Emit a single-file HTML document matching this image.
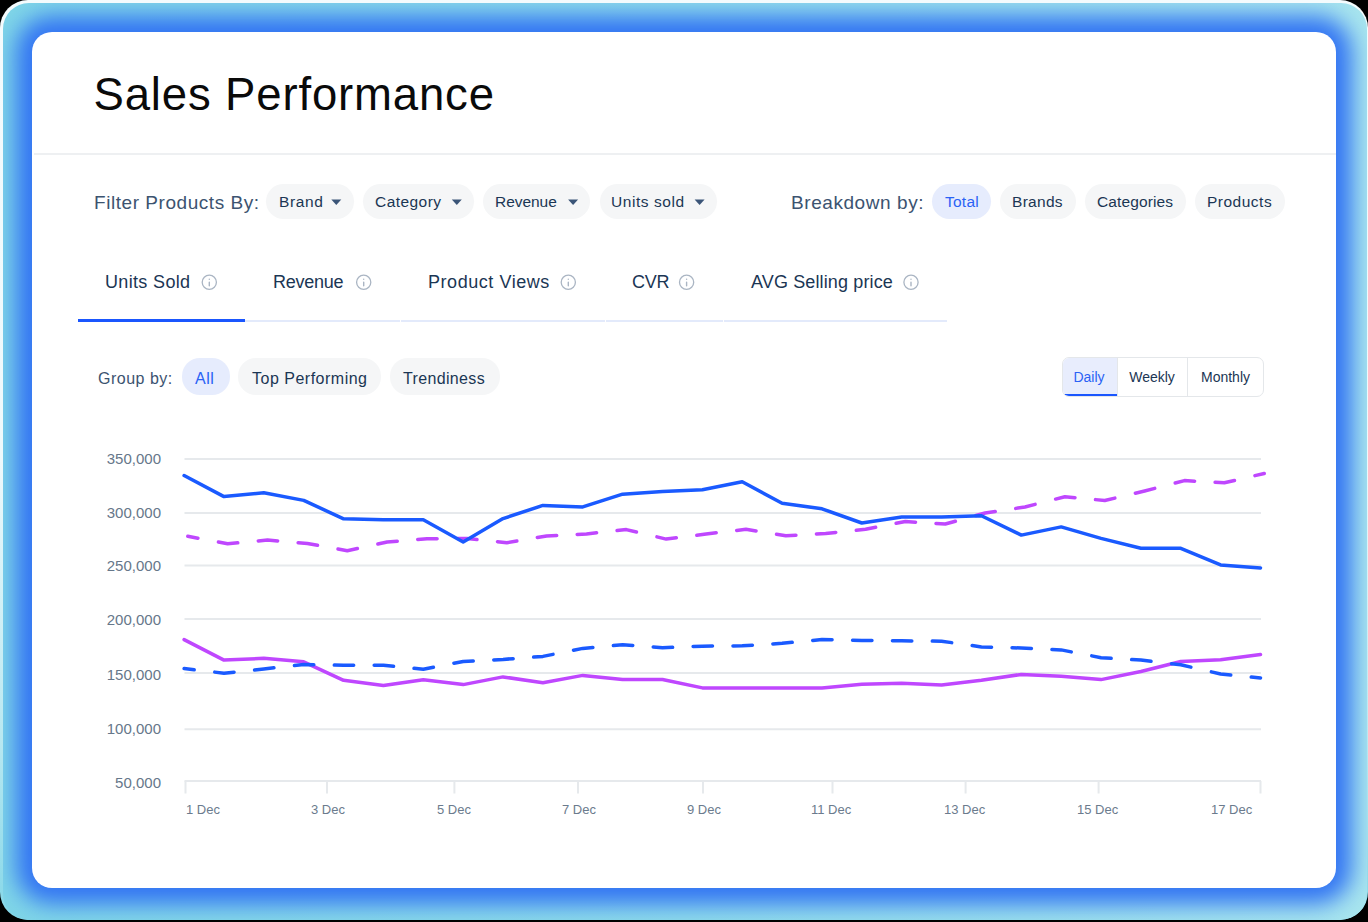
<!DOCTYPE html>
<html><head><meta charset="utf-8">
<style>
*{box-sizing:border-box;margin:0;padding:0}
html,body{width:1368px;height:922px;overflow:hidden;background:#000;font-family:"Liberation Sans",sans-serif}
.frame{position:absolute;left:0;top:0;width:1368px;height:920px;border-radius:28px;background:linear-gradient(180deg,#f4fbfd 0%,#eef9fc 50%,#b9e8f1 80%,#85d7e8 100%);overflow:hidden}
.frame-in{position:absolute;left:3px;top:3px;width:1364px;height:917px;border-radius:26px;background:linear-gradient(90deg,#7fd5e7,#8edbea 50%,#a8e5ee);overflow:hidden}
.glow{position:absolute;left:29px;top:29px;width:1304px;height:856px;border-radius:20px;background:#3375f3;box-shadow:0 0 22px 16px #3375f3}
.card{position:absolute;left:32px;top:32px;width:1304px;height:856px;border-radius:20px;background:#fff}
.abs{position:absolute;white-space:nowrap}
.title{left:93.5px;top:67px;font-size:45.5px;letter-spacing:0.85px;color:#0a0a0a;line-height:56px}
.hr{position:absolute;left:34px;top:153px;width:1302px;height:2px;background:#eef0f2}
.lbl{font-size:19px;letter-spacing:0.57px;color:#3c5370;line-height:22px}
.ptx{top:193px;font-size:15.5px;line-height:18px;color:#1b3654}
.gtx{top:369.5px;font-size:16px;line-height:18px;color:#1b3654;letter-spacing:0.5px}
.pill{position:absolute;height:35px;border-radius:18px;background:#f5f6f7;color:#1b3654;font-size:15px;line-height:35px;white-space:nowrap}
.pill.on{background:#e6ecfd;color:#2a62f5}
.tri{position:absolute;top:15px;width:0;height:0;border-left:5px solid transparent;border-right:5px solid transparent;border-top:5.5px solid #3b5578}
.tab{top:271px;font-size:18px;color:#1b3654;line-height:22px}
.tline{position:absolute;height:2px;background:#e3eafb}
.seg{position:absolute;left:1062px;top:357px;width:202px;height:40px;border:1px solid #e4e7ea;border-radius:7px;overflow:hidden}
.seg div{position:absolute;top:0;height:38px;line-height:39px;font-size:14px;color:#1b3654;text-align:center}
.ylab{position:absolute;right:1207px;font-family:"Liberation Sans",sans-serif;font-size:15px;color:#66778a;line-height:16px;text-align:right}
.xlab{position:absolute;font-size:13px;color:#6b7b8d;line-height:14px;white-space:nowrap;margin-top:1px}
</style></head><body>
<div class="frame"><div class="frame-in"><div class="glow"></div></div></div>
<div class="card"></div>
<div class="abs title">Sales Performance</div>
<div class="hr"></div>

<!-- filter row -->
<div class="abs lbl" style="left:94px;top:191.5px;letter-spacing:0.55px">Filter Products By:</div>
<div class="pill" style="left:266px;top:184px;width:88px"></div>
<div class="pill" style="left:363px;top:184px;width:111px"></div>
<div class="pill" style="left:483px;top:184px;width:107px"></div>
<div class="pill" style="left:600px;top:184px;width:117px"></div>
<div class="abs ptx" style="left:279px;letter-spacing:0.65px">Brand</div>
<div class="abs ptx" style="left:375px;letter-spacing:0.45px">Category</div>
<div class="abs ptx" style="left:495px;letter-spacing:-0.05px">Revenue</div>
<div class="abs ptx" style="left:611px;letter-spacing:0.55px">Units sold</div>
<svg class="abs" style="left:0;top:0" width="1368" height="922"><g fill="#3b5578">
<path d="M331.3 199.4H341.3L336.3 205Z"/><path d="M451.8 199.4H461.8L456.8 205Z"/><path d="M568.1 199.4H578.1L573.1 205Z"/><path d="M694.6 199.4H704.6L699.6 205Z"/>
</g></svg>

<div class="abs lbl" style="left:791px;top:191.5px">Breakdown by:</div>
<div class="pill on" style="left:932px;top:184px;width:59px"></div>
<div class="pill" style="left:1000px;top:184px;width:76px"></div>
<div class="pill" style="left:1085px;top:184px;width:101px"></div>
<div class="pill" style="left:1195px;top:184px;width:90px"></div>
<div class="abs ptx" style="left:945px;color:#2a62f5;letter-spacing:0.25px">Total</div>
<div class="abs ptx" style="left:1012px;letter-spacing:0.3px">Brands</div>
<div class="abs ptx" style="left:1097px;letter-spacing:0.12px">Categories</div>
<div class="abs ptx" style="left:1207px;letter-spacing:0.5px">Products</div>

<!-- tabs -->
<div class="abs tab" style="left:105px;letter-spacing:0.34px">Units Sold</div>
<div class="abs tab" style="left:273px;letter-spacing:-0.25px">Revenue</div>
<div class="abs tab" style="left:428px;letter-spacing:0.55px">Product Views</div>
<div class="abs tab" style="left:632px;letter-spacing:-0.3px">CVR</div>
<div class="abs tab" style="left:751px;letter-spacing:0.13px">AVG Selling price</div>
<svg class="abs" style="left:0;top:0" width="1368" height="922">
 <g fill="none" stroke="#aab5c3" stroke-width="1.3">
  <circle cx="209.3" cy="282.3" r="7.1"/><circle cx="363.7" cy="282.3" r="7.1"/><circle cx="568.3" cy="282.3" r="7.1"/><circle cx="686.6" cy="282.3" r="7.1"/><circle cx="911" cy="282.3" r="7.1"/>
 </g>
 <g stroke="#aab5c3" stroke-width="1.4" stroke-linecap="round">
  <path d="M209.3 279.1v0.1M209.3 282.2v3.5"/><path d="M363.7 279.1v0.1M363.7 282.2v3.5"/><path d="M568.3 279.1v0.1M568.3 282.2v3.5"/><path d="M686.6 279.1v0.1M686.6 282.2v3.5"/><path d="M911 279.1v0.1M911 282.2v3.5"/>
 </g>
</svg>
<div class="tline" style="left:245px;top:320px;width:155px"></div>
<div class="tline" style="left:401px;top:320px;width:204px"></div>
<div class="tline" style="left:606px;top:320px;width:117px"></div>
<div class="tline" style="left:724px;top:320px;width:223px"></div>
<div class="tline" style="left:78px;top:319px;width:167px;height:3px;background:#1a56fe"></div>

<!-- group by -->
<div class="abs gtx" style="left:98px;color:#3c5370">Group by:</div>
<div class="pill on" style="left:182px;top:358px;width:48px;height:37px"></div>
<div class="pill" style="left:238px;top:358px;width:143px;height:37px"></div>
<div class="pill" style="left:390px;top:358px;width:110px;height:37px"></div>
<div class="abs gtx" style="left:195px;color:#2a62f5">All</div>
<div class="abs gtx" style="left:252px">Top Performing</div>
<div class="abs gtx" style="left:403px;letter-spacing:0.35px">Trendiness</div>

<div class="seg">
 <div style="left:0;width:54px;background:#e8edfd;color:#2a62f5;padding-right:2px">Daily</div>
 <div style="left:54px;width:70px;border-left:1px solid #e4e7ea;padding-right:1px">Weekly</div>
 <div style="left:124px;width:76px;border-left:1px solid #e4e7ea">Monthly</div>
 <i style="position:absolute;left:1px;top:36px;width:53px;height:2px;background:#1a56fe"></i>
</div>

<!-- chart -->
<div class="ylab" style="top:451px">350,000</div>
<div class="ylab" style="top:505px">300,000</div>
<div class="ylab" style="top:558px">250,000</div>
<div class="ylab" style="top:612px">200,000</div>
<div class="ylab" style="top:667px">150,000</div>
<div class="ylab" style="top:721px">100,000</div>
<div class="ylab" style="top:775px">50,000</div>

<svg class="abs" style="left:0;top:0" width="1368" height="922" viewBox="0 0 1368 922">
 <g stroke="#e6e9ec" stroke-width="2" fill="none">
  <path d="M184.5 459H1261M184.5 513H1261M184.5 565.5H1261M184.5 619H1261M184.5 673H1261M184.5 729.2H1261M184.5 781H1261"/>
  <path d="M185.5 781V793.5M327 781V793.5M454.4 781V793.5M578 781V793.5M703 781V793.5M832.5 781V793.5M965.6 781V793.5M1098.6 781V793.5M1260.5 781V793.5"/>
 </g>
 <g fill="none" stroke-width="3.5" stroke-linecap="round" stroke-linejoin="round">
  <path stroke="#bf47fe" d="M187.80 536.30 L197.90 538.20M218.42 542.06 L227.67 543.80 L237.77 542.86M258.28 540.96 L267.53 540.10 L277.63 540.96M298.15 542.71 L307.40 543.50 L317.50 545.32M338.02 549.03 L347.27 550.70 L357.37 548.50M377.88 544.02 L387.13 542.00 L397.24 541.16M417.75 539.47 L427.00 538.70 L437.10 538.65M457.62 538.55 L466.87 538.50 L476.97 539.56M497.49 541.73 L506.74 542.70 L516.84 541.00M537.35 537.55 L546.60 536.00 L556.70 535.47M577.22 534.39 L586.47 533.90 L596.57 532.81M617.09 530.60 L626.34 529.60 L636.44 532.01M656.95 536.90 L666.20 539.10 L676.30 537.81M696.82 535.18 L706.07 534.00 L716.17 532.81M736.69 530.39 L745.94 529.30 L756.04 530.92M776.56 534.22 L785.81 535.70 L795.91 535.14M816.42 534.01 L825.67 533.50 L835.77 532.44M856.29 530.27 L865.54 529.30 L875.64 527.32M896.16 523.31 L905.41 521.50 L915.51 522.13M936.02 523.42 L945.27 524.00 L955.37 521.21M975.89 515.55 L985.14 513.00 L995.24 511.48M1015.76 508.39 L1025.01 507.00 L1035.11 504.39M1055.62 499.09 L1064.87 496.70 L1074.97 497.66M1095.49 499.62 L1104.74 500.50 L1114.84 498.09M1135.36 493.20 L1144.61 491.00 L1154.71 488.37M1175.22 483.01 L1184.47 480.60 L1194.57 481.16M1215.09 482.29 L1224.34 482.80 L1234.44 480.44M1254.96 475.66 L1264.21 473.50"/>
  <path stroke="#bf47fe" d="M184.1 639.6 L224.0 660.1 L263.8 658.3 L303.7 661.8 L343.6 680.3 L383.4 685.4 L423.3 679.8 L463.2 684.6 L503.0 676.9 L542.9 682.7 L582.8 675.4 L622.6 679.5 L662.5 679.5 L702.4 687.9 L742.2 687.9 L782.1 687.9 L822.0 687.9 L861.8 684.2 L901.7 683.2 L941.6 684.9 L981.4 680.3 L1021.3 674.4 L1061.2 676.2 L1101.0 679.6 L1140.9 671.5 L1180.8 661.5 L1220.6 659.8 L1260.5 654.5"/>
  <path stroke="#1a5aff" d="M184.10 668.60 L194.20 669.77M214.72 672.13 L223.97 673.20 L234.07 672.14M254.58 669.97 L263.83 669.00 L273.93 667.86M294.45 665.54 L303.70 664.50 L313.80 664.70M334.32 665.11 L343.57 665.30 L353.67 665.27M374.18 665.22 L383.43 665.20 L393.53 666.21M414.05 668.27 L423.30 669.20 L433.40 667.25M453.92 663.29 L463.17 661.50 L473.27 660.97M493.79 659.89 L503.04 659.40 L513.14 658.64M533.65 657.10 L542.90 656.40 L553.00 654.37M573.52 650.26 L582.77 648.40 L592.87 647.46M613.39 645.56 L622.64 644.70 L632.74 645.46M653.25 647.00 L662.50 647.70 L672.60 647.32M693.12 646.55 L702.37 646.20 L712.47 646.10M732.99 645.89 L742.24 645.80 L752.34 645.17M772.86 643.88 L782.11 643.30 L792.21 642.36M812.72 640.46 L821.97 639.60 L832.07 639.83M852.59 640.29 L861.84 640.50 L871.94 640.58M892.46 640.73 L901.71 640.80 L911.81 640.90M932.32 641.11 L941.57 641.20 L951.67 642.64M972.19 645.58 L981.44 646.90 L991.54 647.18M1012.06 647.74 L1021.31 648.00 L1031.41 648.48M1051.92 649.46 L1061.17 649.90 L1071.27 651.88M1091.79 655.89 L1101.04 657.70 L1111.14 658.31M1131.66 659.54 L1140.91 660.10 L1151.01 661.29M1171.52 663.71 L1180.77 664.80 L1190.87 667.13M1211.39 671.87 L1220.64 674.00 L1230.74 674.99M1251.26 677.00 L1260.51 677.90"/>
  <path stroke="#1a5aff" d="M184.1 475.5 L224.0 496.6 L263.8 492.8 L303.7 500.4 L343.6 518.8 L383.4 519.8 L423.3 519.8 L463.2 542.0 L503.0 518.6 L542.9 505.4 L582.8 506.9 L622.6 494.2 L662.5 491.5 L702.4 489.8 L742.2 481.8 L782.1 503.2 L822.0 508.8 L861.8 523.0 L901.7 517.1 L941.6 517.1 L981.4 515.7 L1021.3 535.1 L1061.2 526.9 L1101.0 538.4 L1140.9 548.3 L1180.8 548.3 L1220.6 564.9 L1260.5 567.9"/>
 </g>
</svg>

<div class="xlab" style="left:186px;top:802px">1 Dec</div>
<div class="xlab" style="left:311px;top:802px">3 Dec</div>
<div class="xlab" style="left:437px;top:802px">5 Dec</div>
<div class="xlab" style="left:562px;top:802px">7 Dec</div>
<div class="xlab" style="left:687px;top:802px">9 Dec</div>
<div class="xlab" style="left:811px;top:802px">11 Dec</div>
<div class="xlab" style="left:944px;top:802px">13 Dec</div>
<div class="xlab" style="left:1077px;top:802px">15 Dec</div>
<div class="xlab" style="left:1211px;top:802px">17 Dec</div>
</body></html>
